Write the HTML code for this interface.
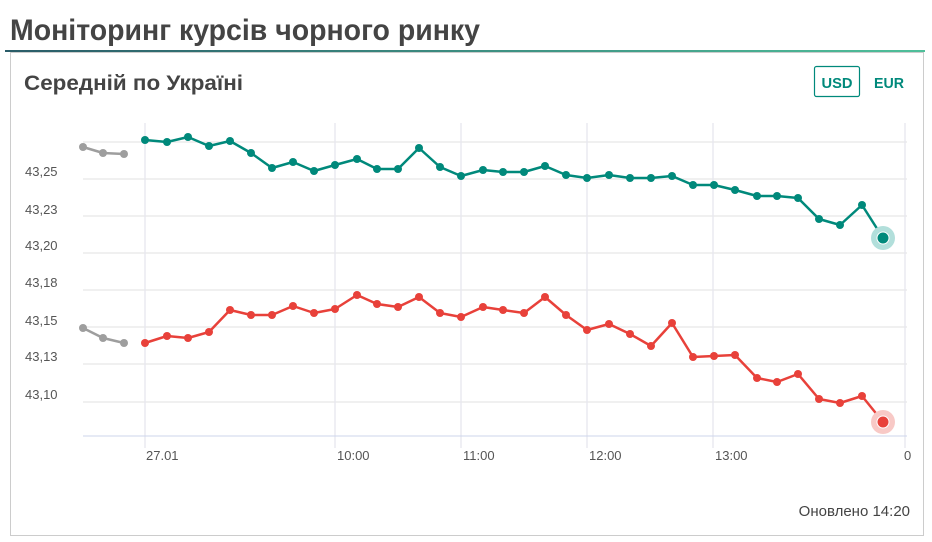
<!DOCTYPE html>
<html><head><meta charset="utf-8"><style>
html,body{margin:0;padding:0;background:#fff;}
svg{display:block;font-family:"Liberation Sans",sans-serif;}
</style></head><body>
<svg width="932" height="542" viewBox="0 0 932 542">
<defs><linearGradient id="g" x1="0" x2="1"><stop offset="0" stop-color="#2a5c68"/><stop offset="1" stop-color="#4fbf9a"/></linearGradient></defs>
<text x="10" y="40" font-size="30" font-weight="bold" fill="#444" textLength="470" lengthAdjust="spacingAndGlyphs">Моніторинг курсів чорного ринку</text>
<rect x="5" y="50" width="920" height="2" fill="url(#g)"/>
<rect x="10.5" y="52.5" width="913" height="483" fill="none" stroke="#ccc" stroke-width="1"/>
<text x="24" y="90" font-size="21" font-weight="bold" fill="#444" textLength="219" lengthAdjust="spacingAndGlyphs">Середній по Україні</text>
<rect x="814.5" y="66.5" width="45" height="30" rx="2" fill="none" stroke="#00897b" stroke-width="1.2"/>
<text x="837" y="88" font-size="15" font-weight="bold" fill="#00897b" text-anchor="middle" textLength="31" lengthAdjust="spacingAndGlyphs">USD</text>
<text x="889" y="88" font-size="15" font-weight="bold" fill="#00897b" text-anchor="middle" textLength="30" lengthAdjust="spacingAndGlyphs">EUR</text>
<g stroke="#ebebeb" stroke-width="1.5">
<line x1="83" x2="907" y1="142" y2="142"/><line x1="83" x2="907" y1="179" y2="179"/>
<line x1="83" x2="907" y1="216" y2="216"/><line x1="83" x2="907" y1="253" y2="253"/>
<line x1="83" x2="907" y1="290" y2="290"/><line x1="83" x2="907" y1="327" y2="327"/>
<line x1="83" x2="907" y1="364" y2="364"/><line x1="83" x2="907" y1="402" y2="402"/>
</g>
<g stroke="#e6e6ee" stroke-width="1.3">
<line x1="145" x2="145" y1="123" y2="448"/><line x1="335" x2="335" y1="123" y2="448"/>
<line x1="461" x2="461" y1="123" y2="448"/><line x1="587" x2="587" y1="123" y2="448"/>
<line x1="713" x2="713" y1="123" y2="448"/><line x1="905" x2="905" y1="123" y2="448"/>
</g>
<line x1="83" x2="907" y1="436" y2="436" stroke="#ccd6eb" stroke-width="1"/>
<g font-size="13" fill="#555">
<text x="25" y="176">43,25</text><text x="25" y="214">43,23</text><text x="25" y="250">43,20</text>
<text x="25" y="287">43,18</text><text x="25" y="325">43,15</text><text x="25" y="361">43,13</text>
<text x="25" y="399">43,10</text>
<text x="146" y="460">27.01</text><text x="337" y="460">10:00</text><text x="463" y="460">11:00</text>
<text x="589" y="460">12:00</text><text x="715" y="460">13:00</text><text x="904" y="460">0</text>
</g>
<g fill="none" stroke-width="2.5" stroke-linejoin="round">
<polyline stroke="#9e9e9e" points="83,147 103,153 124,154"/>
<polyline stroke="#9e9e9e" points="83,328 103,338 124,343"/>
<polyline stroke="#00897b" points="145,140 167,142 188,137 209,146 230,141 251,153 272,168 293,162 314,171 335,165 357,159 377,169 398,169 419,148 440,167 461,176 483,170 503,172 524,172 545,166 566,175 587,178 609,175 630,178 651,178 672,176 693,185 714,185 735,190 757,196 777,196 798,198 819,219 840,225 862,205 883,238"/>
<polyline stroke="#e8413a" points="145,343 167,336 188,338 209,332 230,310 251,315 272,315 293,306 314,313 335,309 357,295 377,304 398,307 419,297 440,313 461,317 483,307 503,310 524,313 545,297 566,315 587,330 609,324 630,334 651,346 672,323 693,357 714,356 735,355 757,378 777,382 798,374 819,399 840,403 862,396 883,422"/>
</g>
<g fill="#9e9e9e"><circle cx="83" cy="147" r="4"/><circle cx="103" cy="153" r="4"/><circle cx="124" cy="154" r="4"/>
<circle cx="83" cy="328" r="4"/><circle cx="103" cy="338" r="4"/><circle cx="124" cy="343" r="4"/></g>
<g fill="#00897b">
<circle cx="145" cy="140" r="4"/><circle cx="167" cy="142" r="4"/><circle cx="188" cy="137" r="4"/><circle cx="209" cy="146" r="4"/><circle cx="230" cy="141" r="4"/><circle cx="251" cy="153" r="4"/><circle cx="272" cy="168" r="4"/><circle cx="293" cy="162" r="4"/><circle cx="314" cy="171" r="4"/><circle cx="335" cy="165" r="4"/><circle cx="357" cy="159" r="4"/><circle cx="377" cy="169" r="4"/><circle cx="398" cy="169" r="4"/><circle cx="419" cy="148" r="4"/><circle cx="440" cy="167" r="4"/><circle cx="461" cy="176" r="4"/><circle cx="483" cy="170" r="4"/><circle cx="503" cy="172" r="4"/><circle cx="524" cy="172" r="4"/><circle cx="545" cy="166" r="4"/><circle cx="566" cy="175" r="4"/><circle cx="587" cy="178" r="4"/><circle cx="609" cy="175" r="4"/><circle cx="630" cy="178" r="4"/><circle cx="651" cy="178" r="4"/><circle cx="672" cy="176" r="4"/><circle cx="693" cy="185" r="4"/><circle cx="714" cy="185" r="4"/><circle cx="735" cy="190" r="4"/><circle cx="757" cy="196" r="4"/><circle cx="777" cy="196" r="4"/><circle cx="798" cy="198" r="4"/><circle cx="819" cy="219" r="4"/><circle cx="840" cy="225" r="4"/><circle cx="862" cy="205" r="4"/>
<circle cx="883" cy="238" r="12" fill="#b2dfdb"/><circle cx="883" cy="238" r="6" stroke="#fff" stroke-width="1"/>
</g>
<g fill="#e8413a">
<circle cx="145" cy="343" r="4"/><circle cx="167" cy="336" r="4"/><circle cx="188" cy="338" r="4"/><circle cx="209" cy="332" r="4"/><circle cx="230" cy="310" r="4"/><circle cx="251" cy="315" r="4"/><circle cx="272" cy="315" r="4"/><circle cx="293" cy="306" r="4"/><circle cx="314" cy="313" r="4"/><circle cx="335" cy="309" r="4"/><circle cx="357" cy="295" r="4"/><circle cx="377" cy="304" r="4"/><circle cx="398" cy="307" r="4"/><circle cx="419" cy="297" r="4"/><circle cx="440" cy="313" r="4"/><circle cx="461" cy="317" r="4"/><circle cx="483" cy="307" r="4"/><circle cx="503" cy="310" r="4"/><circle cx="524" cy="313" r="4"/><circle cx="545" cy="297" r="4"/><circle cx="566" cy="315" r="4"/><circle cx="587" cy="330" r="4"/><circle cx="609" cy="324" r="4"/><circle cx="630" cy="334" r="4"/><circle cx="651" cy="346" r="4"/><circle cx="672" cy="323" r="4"/><circle cx="693" cy="357" r="4"/><circle cx="714" cy="356" r="4"/><circle cx="735" cy="355" r="4"/><circle cx="757" cy="378" r="4"/><circle cx="777" cy="382" r="4"/><circle cx="798" cy="374" r="4"/><circle cx="819" cy="399" r="4"/><circle cx="840" cy="403" r="4"/><circle cx="862" cy="396" r="4"/>
<circle cx="883" cy="422" r="12" fill="#f8c9c6"/><circle cx="883" cy="422" r="6" stroke="#fff" stroke-width="1"/>
</g>
<text x="910" y="516" font-size="15" fill="#444" text-anchor="end">Оновлено 14:20</text>
</svg>
</body></html>
